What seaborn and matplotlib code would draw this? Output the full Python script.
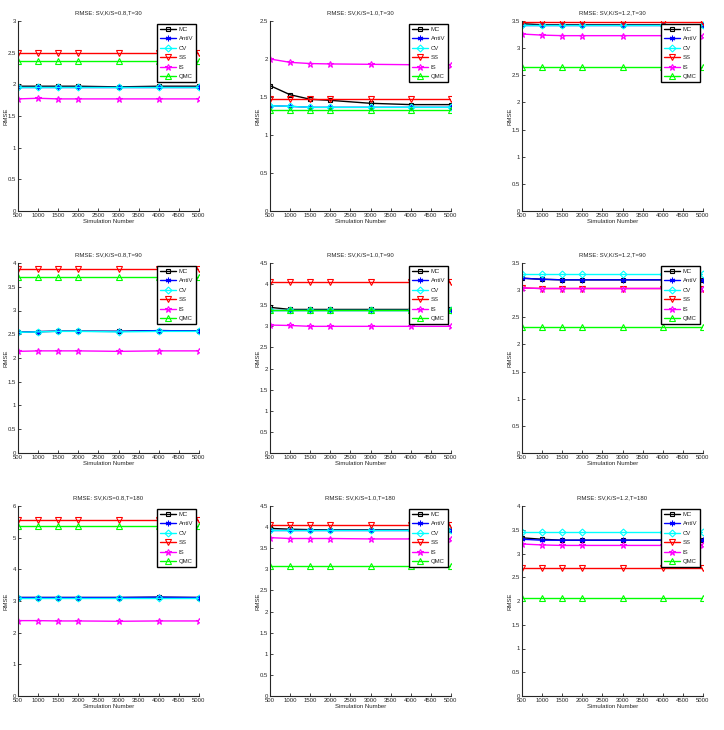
import numpy as np
import matplotlib
matplotlib.use("Agg")
import matplotlib.pyplot as plt
import seaborn as sns
from matplotlib.ticker import FuncFormatter, MultipleLocator

# simulation numbers on the x axis
sim_n = [500, 1000, 1500, 2000, 3000, 4000, 5000]
methods = ["MC", "AntiV", "CV", "SS", "IS", "QMC"]

titles = [
    "RMSE: SV,K/S=0.8,T=30", "RMSE: SV,K/S=1.0,T=30", "RMSE: SV,K/S=1.2,T=30",
    "RMSE: SV,K/S=0.8,T=90", "RMSE: SV,K/S=1.0,T=90", "RMSE: SV,K/S=1.2,T=90",
    "RMSE: SV,K/S=0.8,T=180", "RMSE: SV,K/S=1.0,T=180", "RMSE: SV,K/S=1.2,T=180",
]
ylims = [3, 2.5, 3.5, 4, 4.5, 3.5, 6, 4.5, 4]
ysteps = [0.5, 0.5, 0.5, 0.5, 0.5, 0.5, 1, 0.5, 0.5]

# RMSE values, one list per method per panel
mc = [
    [1.97, 1.97, 1.97, 1.97, 1.96, 1.97, 1.97],
    [1.65, 1.53, 1.47, 1.456, 1.417, 1.40, 1.40],
    [3.45, 3.43, 3.43, 3.43, 3.43, 3.43, 3.43],
    [2.54, 2.556, 2.563, 2.563, 2.56, 2.577, 2.57],
    [3.45, 3.40, 3.40, 3.40, 3.40, 3.40, 3.40],
    [3.22, 3.20, 3.19, 3.19, 3.19, 3.19, 3.19],
    [3.11, 3.11, 3.11, 3.11, 3.11, 3.12, 3.11],
    [3.97, 3.95, 3.94, 3.935, 3.935, 3.935, 3.935],
    [3.33, 3.30, 3.28, 3.28, 3.28, 3.28, 3.28],
]
antiv = [
    [1.96, 1.96, 1.96, 1.96, 1.96, 1.96, 1.96],
    [1.386, 1.377, 1.364, 1.364, 1.364, 1.364, 1.364],
    [3.43, 3.43, 3.43, 3.43, 3.43, 3.43, 3.43],
    [2.54, 2.556, 2.563, 2.563, 2.56, 2.577, 2.57],
    [3.39, 3.39, 3.39, 3.39, 3.39, 3.39, 3.39],
    [3.22, 3.20, 3.19, 3.19, 3.19, 3.19, 3.19],
    [3.11, 3.11, 3.11, 3.11, 3.11, 3.12, 3.11],
    [3.935, 3.935, 3.935, 3.935, 3.935, 3.935, 3.935],
    [3.30, 3.28, 3.28, 3.28, 3.28, 3.28, 3.28],
]
cv = [
    [1.96, 1.96, 1.96, 1.96, 1.96, 1.96, 1.96],
    [1.386, 1.377, 1.364, 1.364, 1.364, 1.364, 1.364],
    [3.43, 3.43, 3.43, 3.43, 3.43, 3.43, 3.43],
    [2.54, 2.55, 2.56, 2.56, 2.55, 2.56, 2.56],
    [3.39, 3.39, 3.39, 3.39, 3.39, 3.39, 3.39],
    [3.30, 3.30, 3.30, 3.30, 3.30, 3.30, 3.30],
    [3.10, 3.10, 3.10, 3.10, 3.10, 3.10, 3.10],
    [3.935, 3.935, 3.935, 3.935, 3.935, 3.935, 3.935],
    [3.46, 3.46, 3.46, 3.46, 3.46, 3.46, 3.46],
]
ss = [
    [2.5, 2.5, 2.5, 2.5, 2.5, 2.5, 2.5],
    [1.47, 1.47, 1.47, 1.47, 1.47, 1.47, 1.47],
    [3.48, 3.48, 3.48, 3.48, 3.48, 3.48, 3.48],
    [3.88, 3.88, 3.88, 3.88, 3.88, 3.88, 3.88],
    [4.06, 4.06, 4.06, 4.06, 4.06, 4.06, 4.06],
    [3.04, 3.03, 3.03, 3.03, 3.03, 3.03, 3.03],
    [5.56, 5.56, 5.56, 5.56, 5.56, 5.56, 5.56],
    [4.05, 4.05, 4.05, 4.05, 4.05, 4.05, 4.05],
    [2.69, 2.69, 2.69, 2.69, 2.69, 2.69, 2.69],
]
is_ = [
    [1.77, 1.78, 1.77, 1.77, 1.77, 1.77, 1.77],
    [2.0, 1.956, 1.94, 1.935, 1.93, 1.925, 1.925],
    [3.26, 3.24, 3.23, 3.23, 3.23, 3.23, 3.23],
    [2.14, 2.15, 2.15, 2.15, 2.14, 2.15, 2.15],
    [3.03, 3.02, 3.0, 3.0, 3.0, 3.0, 3.0],
    [3.04, 3.03, 3.03, 3.03, 3.03, 3.03, 3.03],
    [2.38, 2.38, 2.37, 2.37, 2.36, 2.37, 2.37],
    [3.75, 3.73, 3.73, 3.73, 3.72, 3.72, 3.72],
    [3.20, 3.18, 3.17, 3.17, 3.17, 3.17, 3.17],
]
qmc = [
    [2.37, 2.37, 2.37, 2.37, 2.37, 2.37, 2.37],
    [1.325, 1.325, 1.325, 1.325, 1.325, 1.325, 1.325],
    [2.66, 2.66, 2.66, 2.66, 2.66, 2.66, 2.66],
    [3.71, 3.71, 3.71, 3.71, 3.71, 3.71, 3.71],
    [3.39, 3.39, 3.39, 3.39, 3.39, 3.39, 3.39],
    [2.32, 2.32, 2.32, 2.32, 2.32, 2.32, 2.32],
    [5.38, 5.38, 5.38, 5.38, 5.38, 5.38, 5.38],
    [3.08, 3.08, 3.08, 3.08, 3.08, 3.08, 3.08],
    [2.07, 2.07, 2.07, 2.07, 2.07, 2.07, 2.07],
]
series = [mc, antiv, cv, ss, is_, qmc]

colors = ["black", "blue", "cyan", "red", "magenta", "#00ff00"]
markers = ["s", (6, 2, 0), "D", "v", "*", "^"]
msizes = [3.5, 4, 3.5, 4, 5, 4]

sns.set_style("ticks")
plt.rcParams["font.family"] = ["Liberation Sans", "DejaVu Sans"]

fig = plt.figure(figsize=(7.24, 7.30), dpi=100)
lefts = [18 / 724, 270 / 724, 522 / 724]
bottoms = [1 - 211 / 730, 1 - 453 / 730, 1 - 696 / 730]
w, h = 181 / 724, 190 / 730

fmt = FuncFormatter(lambda v, p: "%g" % v)
fs = 4.3

for i in range(9):
    r, c = divmod(i, 3)
    ax = fig.add_axes([lefts[c], bottoms[r], w, h])
    for k, name in enumerate(methods):
        sns.lineplot(x=sim_n, y=series[k][i], ax=ax, color=colors[k],
                     marker=markers[k], markersize=msizes[k],
                     markerfacecolor="none", markeredgecolor=colors[k],
                     markeredgewidth=0.8, linewidth=1.0, label=name)
    ax.set_xlim(500, 5000)
    ax.set_ylim(0, ylims[i])
    ax.set_xticks(np.arange(500, 5001, 500))
    ax.yaxis.set_major_locator(MultipleLocator(ysteps[i]))
    ax.yaxis.set_major_formatter(fmt)
    ax.tick_params(direction="in", length=2.5, width=0.6, labelsize=fs, pad=1.5)
    for s in ["left", "bottom"]:
        ax.spines[s].set_linewidth(0.8)
    sns.despine(ax=ax)
    ax.set_title(titles[i], fontsize=fs, pad=5)
    ax.set_xlabel("Simulation Number", fontsize=fs, labelpad=1)
    ax.set_ylabel("RMSE", fontsize=fs, labelpad=1)
    ax.yaxis.set_label_coords(-0.055, 0.5)
    leg = ax.legend(loc="upper right", fontsize=fs, frameon=True, fancybox=False,
                    framealpha=1, edgecolor="black", handlelength=2.8,
                    labelspacing=0.72, borderpad=0.5, handletextpad=0.4,
                    borderaxespad=0.45)
    leg.get_frame().set_linewidth(1.0)

fig.savefig("out.png", dpi=100)
